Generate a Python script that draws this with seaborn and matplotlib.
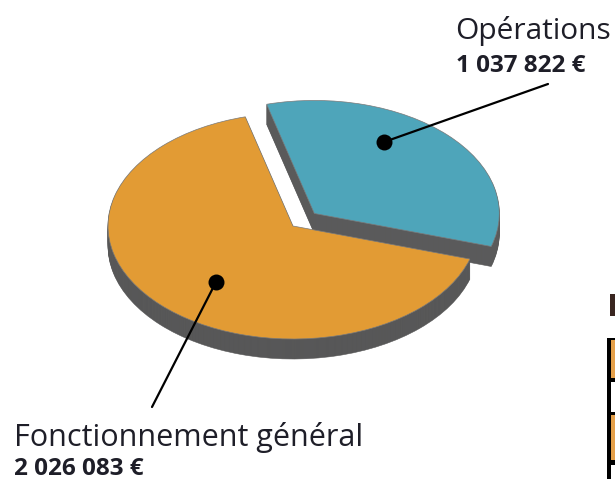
import matplotlib.pyplot as plt
from matplotlib.patches import Rectangle
import seaborn as sns

sns.set_theme(style='white')
plt.rcParams['font.family'] = ['Open Sans', 'DejaVu Sans']

# montants du budget
categories = ['Opérations', 'Fonctionnement général']
values = [1037822, 2026083]
value_labels = ['1 037 822 €', '2 026 083 €']
colors = sns.color_palette(['#4ea5ba', '#e29b34'])
side_colors = ['#5c5c5e', '#555556']

# bord du tableau coupé à droite (haut, bas, couleur)
table_rows = [(340, 378, '#e5a04a'), (382, 412, 'white'), (415, 460, '#e5a04a'), (465, 479, 'white')]

W, H = 615, 479
CX, CY = 293, 226  # centre de l'ellipse en pixels
RX, RY = 185, 113
DEPTH = 20
TEXT = '#1e1e28'

fig = plt.figure(figsize=(W / 100, H / 100), dpi=100)
ax = fig.add_axes([0, 0, 1, 1])


def draw_pie(dy, cols, edge, lw):
    return ax.pie(values, colors=cols, explode=[0.16, 0], startangle=-17,
                  radius=1, center=(0, -dy / RY),
                  wedgeprops={'edgecolor': edge, 'linewidth': lw})


# tranche du camembert : empilement de parts grises
for d in range(DEPTH, 0, -1):
    draw_pie(d, side_colors, '#5a5a5a', 0.4)
draw_pie(0, colors, '#7a7a7a', 0.5)

ax.set_aspect('auto')
ax.set_xlim(-CX / RX, (W - CX) / RX)
ax.set_ylim((CY - H) / RY, CY / RY)
ax.axis('off')

# filets et points
for (x0, y0), (x1, y1) in [((384, 142), (548, 84)), ((216, 282), (152, 407))]:
    ax.annotate('', xy=(x0, H - y0), xytext=(x1, H - y1), xycoords='figure pixels',
                textcoords='figure pixels',
                arrowprops={'arrowstyle': '-', 'color': 'black', 'lw': 1.6, 'shrinkA': 0, 'shrinkB': 0})
    ax.plot((x0 - CX) / RX, (CY - y0) / RY, 'o', color='black', ms=11.5, mew=0, zorder=5)

# libellés
fig.text(455 / W, 1 - 39 / H, categories[0], fontsize=21.5, color=TEXT, va='baseline')
fig.text(456 / W, 1 - 72 / H, value_labels[0], fontsize=17.5, fontweight='bold', color=TEXT, va='baseline')
fig.text(14 / W, 1 - 446 / H, categories[1], fontsize=22, color=TEXT, va='baseline')
fig.text(14 / W, 1 - 475 / H, value_labels[1], fontsize=17.5, fontweight='bold', color=TEXT, va='baseline')

# morceau du tableau voisin
fig.add_artist(Rectangle((610 / W, 1 - 316 / H), 5 / W, 22 / H, transform=fig.transFigure,
                         fc='#3a2620', ec='none'))
fig.add_artist(Rectangle((607 / W, 0), 8 / W, 141 / H, transform=fig.transFigure,
                         fc='black', ec='none'))
for top, bottom, c in table_rows:
    fig.add_artist(Rectangle((611 / W, 1 - bottom / H), 4 / W, (bottom - top) / H,
                             transform=fig.transFigure, fc=c, ec='none'))

plt.savefig('out.png', dpi=100)
